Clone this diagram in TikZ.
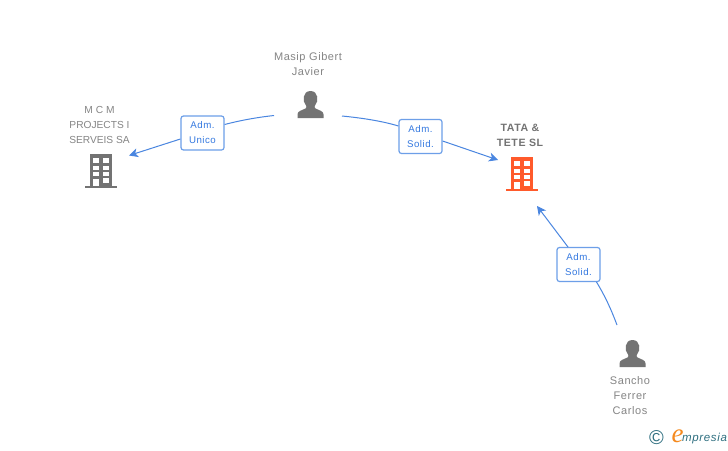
\documentclass[tikz,border=0pt]{standalone}
\usepackage{fontspec}
\setmainfont[LetterSpace=5]{Liberation Sans}
\newfontfamily\capsfont{Liberation Sans}
\newfontfamily\logoserif{Liberation Serif}
\newfontfamily\logosans[LetterSpace=6]{Liberation Sans}
\usetikzlibrary{arrows.meta}
\definecolor{lnk}{HTML}{4A86E0}
\definecolor{tagedge}{HTML}{6D9FE8}
\definecolor{tagtext}{HTML}{3579E0}
\definecolor{gr}{HTML}{737373}
\definecolor{txt}{HTML}{858585}
\definecolor{org}{HTML}{FF5A2B}
\definecolor{teal}{HTML}{2E6F80}
\definecolor{logoorange}{HTML}{F58A1F}
\tikzset{
 x=1pt,y=-1pt,
 lbl/.style={text=txt,font=\fontsize{11}{15}\selectfont,align=center,inner sep=0pt},
 capslbl/.style={text=txt,font=\capsfont\fontsize{10.2}{15}\selectfont,align=center,inner sep=0pt},
 boldlbl/.style={text=gr,font=\fontsize{10.6}{15}\selectfont\bfseries,align=center,inner sep=0pt},
 tag/.style={draw=tagedge,line width=1.2pt,rounded corners=2.5pt,fill=white,text=tagtext,
   font=\fontsize{9.7}{15}\selectfont,align=center,minimum width=43pt,minimum height=34pt,inner sep=0pt},
 conn/.style={draw=lnk,line width=1pt},
 arr/.style={conn,-{Stealth[length=9pt,width=9pt,inset=2.5pt]}},
 pt/.style={inner sep=0pt,outer sep=0pt,minimum size=0pt},
}
\newcommand{\personicon}[2]{%
 \begin{scope}[shift={(#1,#2)}]
  \fill[gr] (-13,13.5) -- (-13,10) .. controls (-13,6.5) and (-9,6) .. (-5,4) .. controls (-3.8,3) and (-3.8,2) .. (-4.5,1)
   .. controls (-8.5,-3) and (-8,-13.5) .. (0,-13.5) .. controls (8,-13.5) and (8.5,-3) .. (4.5,1)
   .. controls (3.8,2) and (3.8,3) .. (5,4) .. controls (9,6) and (13,6.5) .. (13,10) -- (13,13.5) -- cycle;
 \end{scope}}
\newcommand{\buildingicon}[3]{%
 \begin{scope}[shift={(#1,#2)}]
  \fill[#3] (-11,-17) rectangle (11,14.5);
  \fill[#3] (-16,14.5) rectangle (16,16.5);
  \foreach \ya/\yb in {-13/-8.5,-5.5/-1.5,1/5} {
   \fill[white] (-7.7,\ya) rectangle (-2.2,\yb);
   \fill[white] (2.3,\ya) rectangle (7.8,\yb);
  }
  \fill[white] (2.3,7) rectangle (7.8,11.5);
  \fill[white] (-7.7,7.5) rectangle (-2.2,14.5);
 \end{scope}}
\begin{document}
\begin{tikzpicture}
\useasboundingbox[fill=white] (0,0) rectangle (728,450);
% nodes
\node[capslbl] (mcm) at (99.5,125) {M C M\\PROJECTS I\\SERVEIS SA};
\node[pt] (mcmicon) at (101,171) {};
\node[lbl] (masip) at (308,64.5) {Masip Gibert\\Javier};
\node[pt] (masipicon) at (310.5,104.5) {};
\node[boldlbl] (tata) at (520,135) {TATA \&\\TETE SL};
\node[pt] (tataicon) at (522,174) {};
\node[lbl] (sancho) at (630,395.5) {Sancho\\Ferrer\\Carlos};
\node[pt] (sanchoicon) at (632.5,353.5) {};
\buildingicon{101}{171}{gr}
\buildingicon{522}{174}{org}
\personicon{310.5}{104.5}
\personicon{632.5}{353.5}
% connector ends
\coordinate (a1) at (274,115.5);
\coordinate (a2) at (129,155.5);
\coordinate (b1) at (342,116);
\coordinate (b2) at (498,160);
\coordinate (c1) at (617,325);
\coordinate (c2) at (537,206);
% tags
\node[tag] (t1) at (202.5,133) {Adm.\\Unico};
\node[tag] (t2) at (420.5,136.5) {Adm.\\Solid.};
\node[tag] (t3) at (578.5,264.5) {Adm.\\Solid.};
% connectors
\draw[conn] (a1) .. controls (256,117.5) and (240,120.5) .. (t1.east |- 0,124.5);
\draw[arr] (t1.west |- 0,139) -- (a2);
\draw[conn] (b1) .. controls (362,118) and (382,121) .. (t2.west |- 0,126);
\draw[arr] (t2.east |- 0,141) -- (b2);
\draw[conn] (c1) .. controls (611,309) and (605,296) .. (596.5,282);
\draw[arr] (568,247) -- (c2);
% logo
\node[pt,text=teal,font=\fontsize{20}{20}\selectfont] (copy) at (656.5,438) {©};
\node[pt,text=logoorange,font=\logoserif\fontsize{27}{27}\selectfont\itshape] (elogo) at (677.5,436) {e};
\node[pt,anchor=west,text=teal,font=\logosans\fontsize{11.5}{12}\selectfont\itshape] (mpresia) at (682,439) {mpresia};
\end{tikzpicture}
\end{document}
